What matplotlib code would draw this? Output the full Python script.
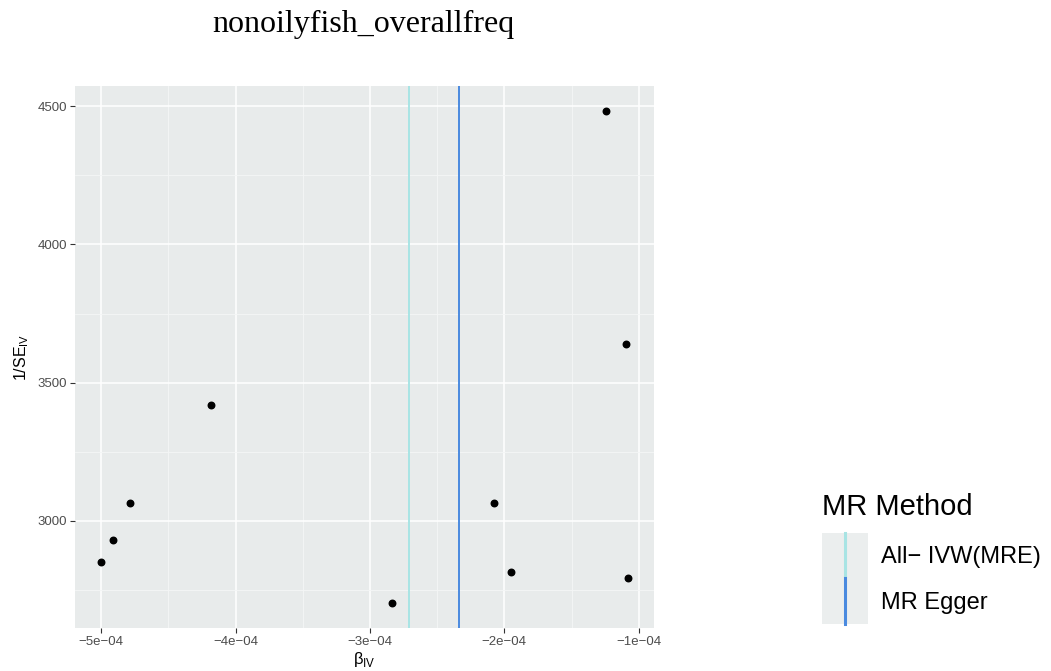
import matplotlib
matplotlib.use("Agg")
import matplotlib.pyplot as plt
from matplotlib.legend_handler import HandlerBase
from matplotlib.lines import Line2D
from matplotlib.patches import Rectangle

# valores
beta_iv = [-5.00e-4, -4.913e-4, -4.785e-4, -4.181e-4, -2.834e-4,
           -2.074e-4, -1.950e-4, -1.243e-4, -1.094e-4, -1.082e-4]
inv_se = [2850, 2931, 3064, 3418, 2702, 3065, 2814, 4484, 3641, 2793]

metodos = ["All\u2212 IVW(MRE)", "MR Egger"]
estimativas = [-2.708e-4, -2.340e-4]
cores = ["#A8E4E4", "#4A8ADF"]

xticks = [-5e-4, -4e-4, -3e-4, -2e-4, -1e-4]
xlabels = ["\u22125e\u221204", "\u22124e\u221204", "\u22123e\u221204", "\u22122e\u221204", "\u22121e\u221204"]
yticks = [3000, 3500, 4000, 4500]

plt.rcParams["font.family"] = ["Liberation Sans", "DejaVu Sans"]
plt.rcParams["mathtext.fontset"] = "custom"
plt.rcParams["mathtext.rm"] = "Liberation Sans"

fig = plt.figure(figsize=(10.51, 6.71), dpi=100)
ax = fig.add_axes([75 / 1051, 1 - 628 / 671, 579 / 1051, 542 / 671])

ax.set_facecolor("#E8EBEB")
for s in ax.spines.values():
    s.set_visible(False)

# grade maior e menor
ax.set_xticks(xticks)
ax.set_xticklabels(xlabels)
ax.set_yticks(yticks)
ax.set_xticks([-4.5e-4, -3.5e-4, -2.5e-4, -1.5e-4], minor=True)
ax.set_yticks([2750, 3250, 3750, 4250], minor=True)
ax.grid(which="major", color="white", lw=1.1)
ax.grid(which="minor", color="#F4F6F6", lw=0.6)
ax.set_axisbelow(True)
ax.tick_params(which="major", length=3.5, width=0.8, color="#333333",
               labelcolor="#4D4D4D", labelsize=9.5, pad=2)
ax.tick_params(which="minor", length=0)

ax.scatter(beta_iv, inv_se, s=22, color="black", zorder=3)
ax.margins(x=0.05, y=0.05)

handles = []
for m, b, c in zip(metodos, estimativas, cores):
    h = ax.axvline(b, color=c, lw=1.4, zorder=2)
    handles.append(h)

ax.set_xlabel(r"$\mathrm{\beta}_{\mathrm{IV}}$", fontsize=12, labelpad=2)
ax.set_ylabel(r"1/SE$_{\mathrm{IV}}$", fontsize=11.5, labelpad=5)

fig.text(363 / 1051, 1 - 32 / 671, "nonoilyfish_overallfreq",
         family="Liberation Serif", fontsize=23, ha="center", va="baseline")

# titulo da legenda separado
fig.text(822 / 1051, 1 - 515 / 671, "MR Method", fontsize=21,
         ha="left", va="baseline")


class ChaveVertical(HandlerBase):
    def create_artists(self, legend, orig_handle, xdescent, ydescent,
                       width, height, fontsize, trans):
        fundo = Rectangle((-xdescent, -ydescent), width, height,
                          facecolor="#EBEEEE", edgecolor="none", transform=trans)
        linha = Line2D([width / 2 - xdescent] * 2, [-ydescent, height - ydescent],
                       color=orig_handle.get_color(), lw=2.2, transform=trans)
        return [fundo, linha]


leg = fig.legend(handles, metodos, loc="upper left",
                 bbox_to_anchor=(822 / 1051, 1 - 532.5 / 671),
                 fontsize=17, frameon=False, borderpad=0, borderaxespad=0,
                 handlelength=1.95, handleheight=2.62, labelspacing=0,
                 handletextpad=0.55,
                 handler_map={Line2D: ChaveVertical()})

fig.savefig("out.png", dpi=100, facecolor="white")
